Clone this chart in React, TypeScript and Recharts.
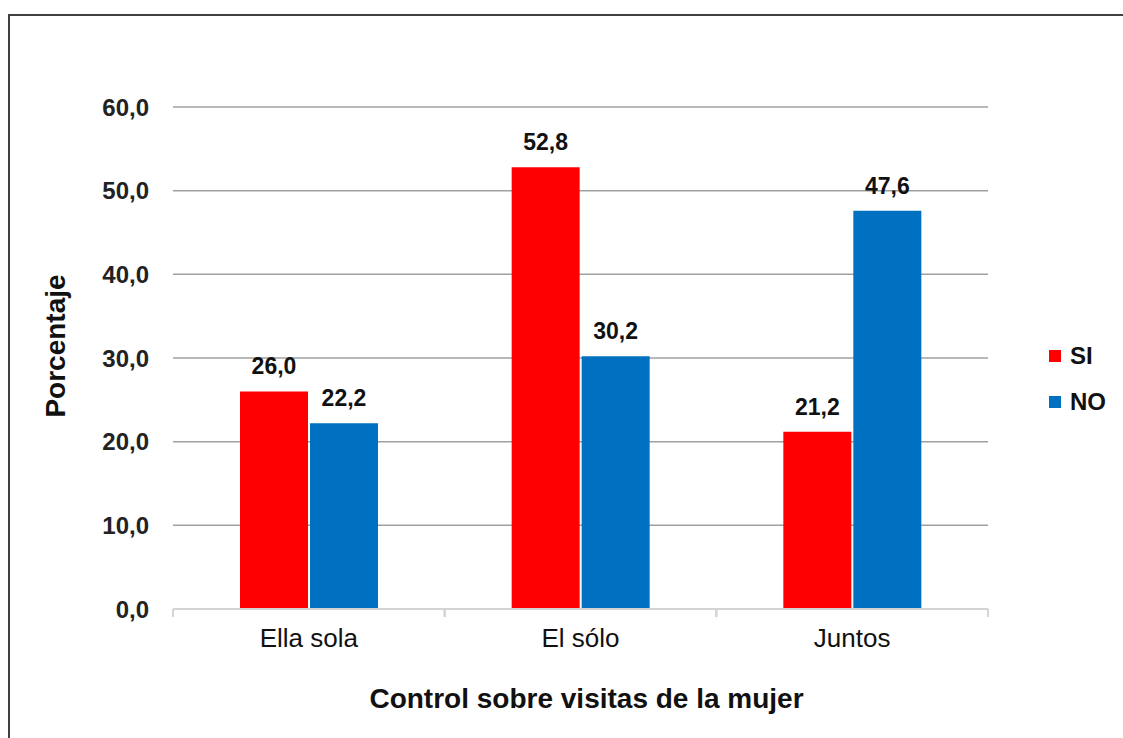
import React from 'react';
import { BarChart, Bar, XAxis, YAxis, CartesianGrid, LabelList, Label } from 'recharts';

const categories = ['Ella sola', 'El sólo', 'Juntos'];
const siValues = [26.0, 52.8, 21.2];
const noValues = [22.2, 30.2, 47.6];
const yTicks = [0, 10, 20, 30, 40, 50, 60];
const seriesNames = ['SI', 'NO'];
const seriesColors = ['#ff0000', '#0070c0'];
const xTitle = 'Control sobre visitas de la mujer';
const yTitle = 'Porcentaje';

const data = categories.map((c, i) => ({ cat: c, SI: siValues[i], NO: noValues[i] }));

const FONT = '"Liberation Sans", Arial, sans-serif';
const fmt = (v: any) => Number(v).toFixed(1).replace('.', ',');

const X_TICK_SIZE = 6;
const X_TICK_MARGIN = 14;
const AXIS_GRAY = '#d4d4d4';

const CatTick = (props: any) => {
  const { x, y, payload } = props;
  const half = payload && payload.offset ? payload.offset : 0;
  const axisY = y - X_TICK_SIZE - X_TICK_MARGIN;
  return (
    <g>
      <line x1={x - half} x2={x - half} y1={axisY} y2={axisY + 8} stroke={AXIS_GRAY} strokeWidth={2} />
      <line x1={x + half} x2={x + half} y1={axisY} y2={axisY + 8} stroke={AXIS_GRAY} strokeWidth={2} />
      <text
        x={x}
        y={y}
        dy="0.71em"
        textAnchor="middle"
        fontFamily={FONT}
        fontSize={26}
        fill="#111"
      >
        {payload.value}
      </text>
    </g>
  );
};

const YTitle = (props: any) => {
  const vb = props.viewBox || {};
  const cx = vb.x + 65;
  const cy = vb.y + vb.height / 2 - 12;
  return (
    <text
      x={cx}
      y={cy}
      transform={`rotate(-90, ${cx}, ${cy})`}
      textAnchor="middle"
      fontFamily={FONT}
      fontWeight="bold"
      fontSize={28}
      fill="#111"
    >
      {yTitle}
    </text>
  );
};

export default function App() {
  return (
    <div style={{ position: 'absolute', left: 0, top: 0, width: 1123, height: 738, overflow: 'hidden', background: '#fff' }}>
      <div
        style={{
          position: 'absolute',
          left: 8,
          top: 14,
          width: 1300,
          height: 900,
          border: '2px solid #404040',
          boxSizing: 'border-box',
        }}
      />
      <div style={{ position: 'absolute', left: 0, top: 0 }}>
        <BarChart
          width={1123}
          height={738}
          data={data}
          margin={{ top: 107, right: 135, bottom: 0, left: 0 }}
          barCategoryGap={67}
          barGap={2}
        >
          <CartesianGrid
            vertical={false}
            horizontalValues={yTicks.filter((v) => v > 0)}
            stroke="#a0a0a0"
            strokeWidth={1.5}
          />
          <XAxis
            dataKey="cat"
            height={129}
            tickLine={false}
            axisLine={{ stroke: AXIS_GRAY, strokeWidth: 2 }}
            tickSize={X_TICK_SIZE}
            tickMargin={X_TICK_MARGIN}
            interval={0}
            tick={<CatTick />}
          >
            <Label
              value={xTitle}
              position="insideBottom"
              offset={30}
              dx={6}
              style={{ fontFamily: FONT, fontWeight: 'bold', fontSize: 28, fill: '#111' }}
            />
          </XAxis>
          <YAxis
            width={173}
            domain={[0, 60]}
            ticks={yTicks}
            tickFormatter={fmt}
            axisLine={false}
            tickLine={false}
            tickSize={6}
            tickMargin={18}
            tick={{ fontFamily: FONT, fontSize: 24, fontWeight: 'bold', fill: '#222' }}
          >
            <Label content={<YTitle />} />
          </YAxis>
          {seriesNames.map((s, i) => (
            <Bar key={s} dataKey={s} fill={seriesColors[i]} isAnimationActive={false}>
              <LabelList
                dataKey={s}
                position="top"
                offset={17}
                formatter={fmt}
                style={{ fontFamily: FONT, fontWeight: 'bold', fontSize: 23, fill: '#111' }}
              />
            </Bar>
          ))}
        </BarChart>
      </div>
      {seriesNames.map((s, i) => (
        <div
          key={s}
          style={{
            position: 'absolute',
            left: 1049,
            top: 343 + i * 46,
            height: 26,
            display: 'flex',
            alignItems: 'center',
            fontFamily: FONT,
            fontWeight: 'bold',
            fontSize: 24,
            color: '#111',
          }}
        >
          <span style={{ display: 'inline-block', width: 12, height: 12, background: seriesColors[i], marginRight: 9 }} />
          <span>{s}</span>
        </div>
      ))}
    </div>
  );
}
